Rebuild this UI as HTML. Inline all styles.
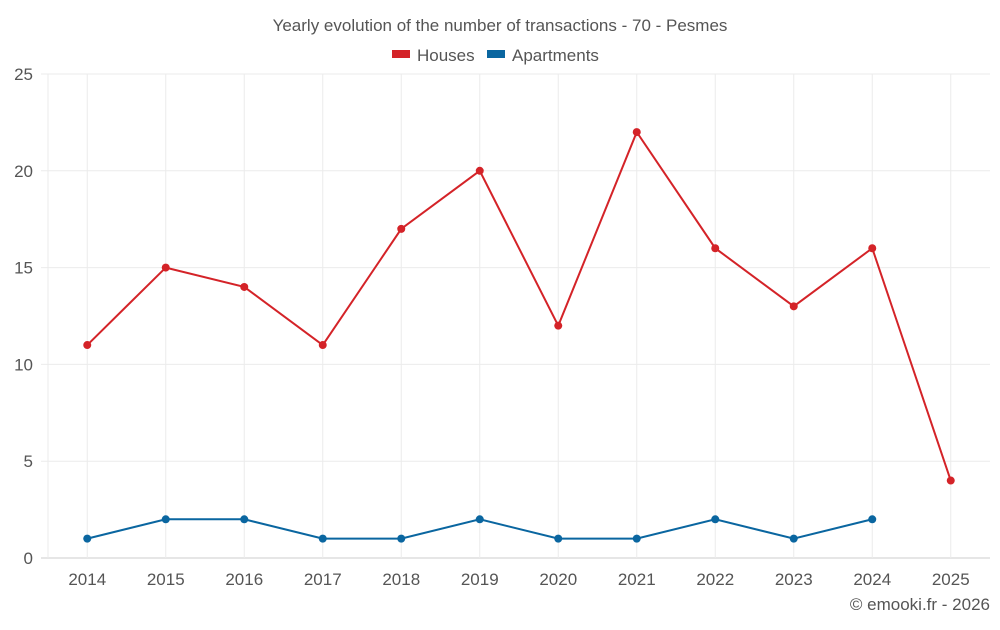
<!DOCTYPE html>
<html><head><meta charset="utf-8">
<style>
body{margin:0;background:#fff;font-family:"Liberation Sans",sans-serif;}
svg text{font-family:"Liberation Sans",sans-serif;}
</style></head>
<body>
<svg id="chart" width="1000" height="625">
<text x="500" y="31" text-anchor="middle" font-size="17" fill="#555">Yearly evolution of the number of transactions - 70 - Pesmes</text>
<g>
<g><rect x="392" y="50" width="18" height="8" fill="#d42328"/><text x="417" y="61" font-size="17" fill="#555">Houses</text></g>
<g><rect x="487" y="50" width="18" height="8" fill="#0a66a0"/><text x="512" y="61" font-size="17" fill="#555">Apartments</text></g>
</g>
<g id="grid"></g>
<g id="axes"></g>
<g id="series"></g>
<text x="990" y="610" text-anchor="end" font-size="17" fill="#555">© emooki.fr - 2026</text>
</svg>
<script>
const categories=["2014","2015","2016","2017","2018","2019","2020","2021","2022","2023","2024","2025"];
const houses=[11,15,14,11,17,20,12,22,16,13,16,4];
const apartments=[1,2,2,1,1,2,1,1,2,1,2];
const yTicks=[0,5,10,15,20,25];
const L=48,R=990,T=74,B=558,yMax=25;
const bw=(R-L)/categories.length;
const xs=i=>L+bw*(i+0.5);
const ys=v=>B-(v/yMax)*(B-T);
const NS="http://www.w3.org/2000/svg";
function mk(tag,attrs,parent){const e=document.createElementNS(NS,tag);for(const k in attrs)e.setAttribute(k,attrs[k]);parent.appendChild(e);return e;}
const grid=document.getElementById('grid'),axes=document.getElementById('axes'),ser=document.getElementById('series');
yTicks.forEach(t=>{
 const l=mk('line',{x1:41,x2:R,y1:ys(t),y2:ys(t),stroke:t===0?'#ccc':'#ebebeb','stroke-width':1},grid);
 
 
 const tx=mk('text',{x:33,y:ys(t)+6,'text-anchor':'end','font-size':17,fill:'#555'},axes);
 tx.textContent=t;
 
 
});
const le=mk('line',{x1:L,x2:L,y1:T,y2:B,stroke:'#ebebeb','stroke-width':1},grid);


categories.forEach((c,i)=>{
 const l=mk('line',{x1:xs(i),x2:xs(i),y1:T,y2:B,stroke:'#ebebeb','stroke-width':1},grid);
 
 
 const tx=mk('text',{x:xs(i),y:585,'text-anchor':'middle','font-size':17,fill:'#555'},axes);
 tx.textContent=c;
 
 
});
function draw(vals,color,name){
 const p=mk('polyline',{points:vals.map((v,i)=>xs(i)+','+ys(v)).join(' '),fill:'none',stroke:color,'stroke-width':2},ser);
 
 
 vals.forEach((v,i)=>{
  const c=mk('circle',{cx:xs(i),cy:ys(v),r:4,fill:color},ser);
  
  
 });
}
draw(houses,'#d42328','houses');
draw(apartments,'#0a66a0','apartments');
</script>
</body></html>
